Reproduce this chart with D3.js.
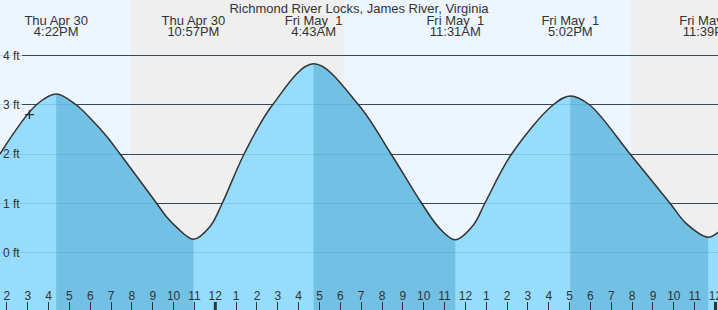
<!DOCTYPE html>
<html>
<head>
<meta charset="utf-8">
<script src="https://cdn.jsdelivr.net/npm/d3@7"></script>
<style>
  html, body { margin: 0; padding: 0; background: #fff; }
  svg { display: block; font-family: "Liberation Sans", Arial, sans-serif; }
</style>
</head>
<body>
<svg id="chart" width="718" height="310"></svg>
<script>
// ---------- data ----------
const title = "Richmond River Locks, James River, Virginia";

// tide curve (local time, feet)
const tideTimes = [
  "2020-04-30 13:40", "2020-04-30 15:25", "2020-04-30 16:22", "2020-04-30 17:19",
  "2020-04-30 18:09", "2020-04-30 18:47", "2020-04-30 19:26", "2020-04-30 21:11",
  "2020-04-30 21:40", "2020-04-30 22:09", "2020-04-30 22:57", "2020-04-30 23:45",
  "2020-05-01 00:20", "2020-05-01 01:23", "2020-05-01 02:45",
  "2020-05-01 04:43", "2020-05-01 06:52", "2020-05-01 08:26",
  "2020-05-01 09:54", "2020-05-01 10:47", "2020-05-01 11:31", "2020-05-01 12:23",
  "2020-05-01 12:56", "2020-05-01 14:13", "2020-05-01 16:13", "2020-05-01 17:02",
  "2020-05-01 17:57", "2020-05-01 19:54", "2020-05-01 21:49", "2020-05-01 22:37",
  "2020-05-01 23:39", "2020-05-02 00:07"
];
const tideLevels = [
  2.00, 3.00, 3.22, 3.00,
  2.66, 2.36, 2.00, 1.00,
  0.72, 0.51, 0.27, 0.53,
  1.00, 2.00, 3.00,
  3.83, 3.00, 2.00,
  1.00, 0.48, 0.26, 0.56,
  1.00, 2.00, 3.00, 3.18,
  3.00, 2.00, 1.00, 0.58,
  0.31, 0.41
];

// high / low tide events
const extremeTimes = ["2020-04-30 16:22", "2020-04-30 22:57", "2020-05-01 04:43",
                      "2020-05-01 11:31", "2020-05-01 17:02", "2020-05-01 23:39"];
const extremeTypes = ["high", "low", "high", "low", "high", "low"];
const extremeDates = ["Thu Apr 30", "Thu Apr 30", "Fri May  1", "Fri May  1", "Fri May  1", "Fri May  1"];
const extremeClock = ["4:22PM", "10:57PM", "4:43AM", "11:31AM", "5:02PM", "11:39PM"];

// night periods (sunset -> sunrise)
const nightStarts = ["2020-04-30 19:57", "2020-05-01 19:57"];
const nightEnds   = ["2020-05-01 06:11", "2020-05-02 06:11"];

// current time marker
const nowTime = "2020-04-30 15:05";
const nowLevel = 2.80;

// y axis ticks
const yTicks = [0, 1, 2, 3, 4];
const yTickLabels = ["0 ft", "1 ft", "2 ft", "3 ft", "4 ft"];

// ---------- setup ----------
const W = 718, H = 310;
const parse = d3.timeParse("%Y-%m-%d %H:%M");
const svg = d3.select("#chart");

const x = d3.scaleTime()
  .domain([parse("2020-05-01 00:00"), parse("2020-05-02 00:00")])
  .range([215.3, 715.5]);
const xStart = x.invert(0), xEnd = x.invert(W);
const y = d3.scaleLinear().domain([0, 4]).range([252.5, 55.5]);
const crisp = v => Math.round(v - 0.5) + 0.5;

const tide = tideTimes.map((t, i) => ({ t: parse(t), v: tideLevels[i] }));

// ---------- background: day / night ----------
svg.append("rect").attr("x", 0).attr("y", 0).attr("width", W).attr("height", H)
  .attr("fill", "#edf6fe");
svg.selectAll("rect.night").data(nightStarts.map((s, i) => [parse(s), parse(nightEnds[i])]))
  .enter().append("rect").attr("class", "night")
  .attr("x", d => Math.round(x(d[0])))
  .attr("y", 0)
  .attr("width", d => Math.round(Math.min(x(d[1]), W)) - Math.round(x(d[0])))
  .attr("height", H)
  .attr("fill", "#efefef");

// ---------- grid lines (dark) ----------
svg.selectAll("line.grid").data(yTicks).enter().append("line")
  .attr("class", "grid")
  .attr("x1", 22).attr("x2", W)
  .attr("y1", d => crisp(y(d))).attr("y2", d => crisp(y(d)))
  .attr("stroke", "#333").attr("stroke-width", 1);

// ---------- tide area ----------
const curve = d3.curveCatmullRom.alpha(0.5);
const area = d3.area().x(d => x(d.t)).y0(H).y1(d => y(d.v)).curve(curve);
const line = d3.line().x(d => x(d.t)).y(d => y(d.v)).curve(curve);

svg.append("path").datum(tide).attr("d", area).attr("fill", "#96dcfd");

// ebb periods: high -> following low
const ebbs = [];
extremeTimes.forEach((t, i) => {
  if (extremeTypes[i] === "high" && i + 1 < extremeTimes.length)
    ebbs.push([parse(t), parse(extremeTimes[i + 1])]);
});
const defs = svg.append("defs");
const cp = defs.append("clipPath").attr("id", "ebbclip");
cp.selectAll("rect").data(ebbs).enter().append("rect")
  .attr("x", d => x(d[0])).attr("y", 0)
  .attr("width", d => x(d[1]) - x(d[0])).attr("height", H);
svg.append("path").datum(tide).attr("d", area).attr("fill", "#72c0e4")
  .attr("clip-path", "url(#ebbclip)");

// faint grid lines seen through the water
svg.selectAll("line.gridfaint").data(yTicks).enter().append("line")
  .attr("class", "gridfaint")
  .attr("x1", 0).attr("x2", W)
  .attr("y1", d => crisp(y(d))).attr("y2", d => crisp(y(d)))
  .attr("stroke", "#3c8cc8").attr("stroke-opacity", 0.25).attr("stroke-width", 1);

// curve outline
svg.append("path").datum(tide).attr("d", line)
  .attr("fill", "none").attr("stroke", "#333").attr("stroke-width", 1.5);

// now marker
const nx = x(parse(nowTime)), ny = y(nowLevel);
svg.append("path")
  .attr("d", `M${nx - 4.5},${ny}H${nx + 4.5}M${nx},${ny - 4.5}V${ny + 4.5}`)
  .attr("stroke", "#333").attr("stroke-width", 1.3).attr("fill", "none");

// ---------- y labels ----------
svg.selectAll("text.ylab").data(yTicks).enter().append("text")
  .attr("class", "ylab")
  .attr("x", 3).attr("y", d => y(d) + 4.3)
  .attr("font-size", 12).attr("fill", "#333")
  .text((d, i) => yTickLabels[i]);

// ---------- title and extreme labels ----------
svg.append("text").attr("x", 359).attr("y", 12.5).attr("text-anchor", "middle")
  .attr("font-size", 13).attr("fill", "#333").text(title);

const ex = svg.selectAll("g.ext").data(extremeTimes).enter().append("g").attr("class", "ext");
ex.append("text").attr("x", d => x(parse(d))).attr("y", 24.5)
  .attr("text-anchor", "middle").attr("font-size", 13).attr("fill", "#333")
  .style("white-space", "pre").text((d, i) => extremeDates[i]);
ex.append("text").attr("x", d => x(parse(d))).attr("y", 36)
  .attr("text-anchor", "middle").attr("font-size", 13).attr("fill", "#333")
  .text((d, i) => extremeClock[i]);

// ---------- x axis (hours) ----------
const hours = d3.timeHour.range(d3.timeHour.ceil(xStart), xEnd);
const fmtHour = d3.timeFormat("%-I");
svg.selectAll("line.htick").data(hours).enter().append("line")
  .attr("class", "htick")
  .attr("x1", d => d.getHours() === 0 ? x(d) : crisp(x(d)))
  .attr("x2", d => d.getHours() === 0 ? x(d) : crisp(x(d)))
  .attr("y1", 302).attr("y2", H)
  .attr("stroke", "#333")
  .attr("stroke-width", d => d.getHours() === 0 ? 3 : 1);
svg.selectAll("text.hlab").data(hours).enter().append("text")
  .attr("class", "hlab")
  .attr("x", d => x(d)).attr("y", 300)
  .attr("text-anchor", "middle").attr("font-size", 12).attr("fill", "#333")
  .text(d => fmtHour(d));
</script>
</body>
</html>
